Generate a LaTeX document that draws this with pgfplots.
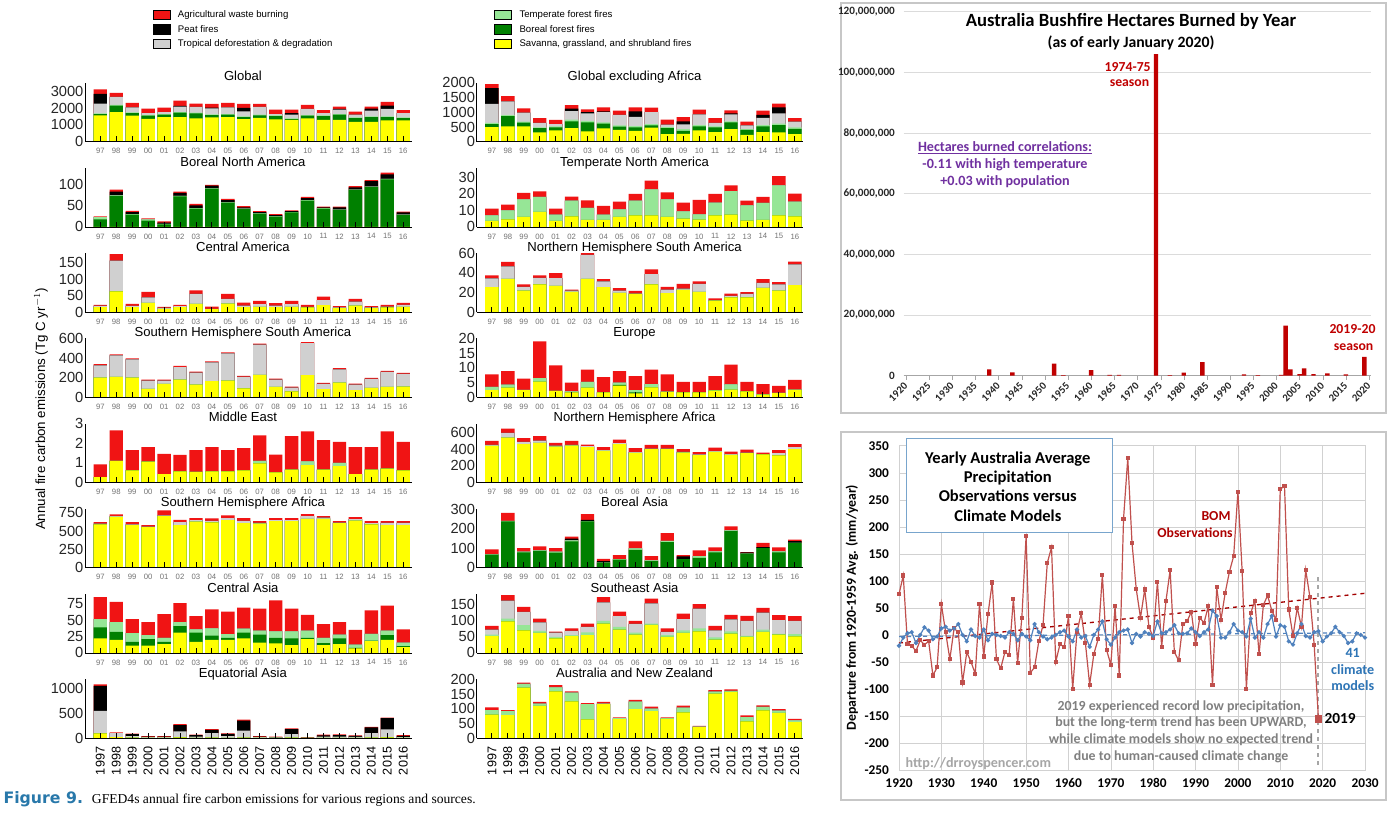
\documentclass[border=0pt]{standalone}
\usepackage{fontspec}
\setmainfont{Liberation Sans}
\newfontfamily\timesf{Liberation Serif}
\newfontfamily\calib{Carlito}
\newfontfamily\dejavu{DejaVu Sans}
\usepackage{pgfplots}
\usepackage{pgfplotstable}
\pgfplotsset{compat=1.18}

\definecolor{cAg}{RGB}{240,20,20}
\definecolor{cPe}{RGB}{0,0,0}
\definecolor{cDe}{RGB}{208,208,208}
\definecolor{cTe}{RGB}{150,230,150}
\definecolor{cBo}{RGB}{0,128,0}
\definecolor{cSa}{RGB}{255,255,0}
\definecolor{barRed}{RGB}{192,0,0}
\definecolor{obsRed}{RGB}{192,80,77}
\definecolor{modBlue}{RGB}{79,129,189}
\definecolor{txtBlue}{RGB}{46,117,182}
\definecolor{txtPurple}{RGB}{112,48,160}
\definecolor{capBlue}{RGB}{40,120,170}
\definecolor{boxBlue}{RGB}{120,165,205}

\def\u{0.75pt}

% cumulative tops of the stacked layers: savanna, +boreal, +temperate, +deforestation, +peat, +agricultural
\pgfplotstableread{
s b t d p a
1560 1640 1680 2260 2840 3100
1760 2140 2180 2660 2660 2900
1540 1700 1740 2040 2040 2300
1360 1540 1580 1700 1700 1960
1460 1600 1640 1760 1760 2020
1460 1720 1760 2080 2120 2440
1380 1680 1720 2060 2060 2260
1440 1580 1620 1980 2020 2240
1460 1600 1640 2040 2040 2300
1340 1460 1500 1800 2000 2240
1420 1560 1600 2060 2060 2240
1320 1520 1560 1640 1640 1900
1300 1340 1380 1600 1700 1900
1380 1540 1580 1940 1940 2180
1300 1520 1560 1700 1700 1880
1300 1600 1640 1900 1940 2080
1180 1400 1440 1600 1600 1780
1180 1460 1500 1840 1960 2080
1260 1460 1500 1940 2140 2360
1260 1400 1440 1700 1700 1880
}\Tgl

\pgfplotstableread{
s b t d p a
0 18 23 23 23 25
0 73 74 74 83 88
0 29 30 30 35 38
0 15 18 18 18 20
0 6 7 7 10 13
0 72 73 73 80 83
0 43 44 44 51 54
0 90 91 91 97 99
0 57 58 58 63 66
0 42 43 43 46 49
0 31 32 32 35 37
0 24 25 25 28 30
0 34 35 35 37 39
0 62 63 63 68 71
0 43 44 44 46 48
0 40 41 41 46 48
0 87 88 88 93 96
0 94 95 95 108 110
0 112 113 113 124 128
0 28 29 29 34 36
}\Tbna

\pgfplotstableread{
s b t d p a
15 15 15 19 19 22
63 63 63 156 156 176
15 15 15 19 19 25
28 28 28 45 45 61
10 10 10 13 13 16
15 15 15 18 18 22
25 25 25 55 55 66
9 9 9 10 10 17
26 26 26 40 40 55
15 15 15 20 20 29
16 16 16 24 24 34
15 15 15 20 20 27
16 16 16 24 24 34
14 14 14 16 16 22
21 21 21 36 36 47
12 12 12 14 14 18
20 20 20 32 32 40
12 12 12 14 14 18
14 14 14 17 17 22
16 16 16 22 22 28
}\Tca

\pgfplotstableread{
s b t d p a
200 200 200 324 324 337
208 208 208 426 426 436
200 200 200 385 385 395
85 85 85 170 170 180
136 136 136 170 170 180
180 180 180 307 307 320
130 130 130 252 252 262
164 164 164 355 355 365
170 170 170 447 447 457
92 92 92 208 208 218
228 228 228 535 535 545
106 106 106 180 180 190
61 61 61 99 99 109
225 225 225 552 552 562
82 82 82 136 136 147
150 150 150 283 283 297
72 72 72 130 130 140
95 95 95 188 188 198
106 106 106 259 259 269
109 109 109 239 239 249
}\Tshsa

\pgfplotstableread{
s b t d p a
0.28 0.28 0.28 0.28 0.28 0.92
1.1 1.1 1.1 1.1 1.1 2.65
0.62 0.62 0.62 0.62 0.62 1.65
1.06 1.06 1.06 1.06 1.06 1.8
0.43 0.43 0.43 0.43 0.43 1.46
0.57 0.57 0.57 0.57 0.57 1.4
0.54 0.54 0.54 0.54 0.54 1.65
0.57 0.57 0.57 0.57 0.57 1.8
0.57 0.57 0.57 0.57 0.57 1.65
0.62 0.62 0.62 0.62 0.62 1.75
0.97 0.97 1.1 1.1 1.1 2.4
0.52 0.52 0.52 0.52 0.52 1.42
0.66 0.66 0.66 0.66 0.66 2.36
0.88 0.88 1.07 1.07 1.07 2.6
0.66 0.66 0.66 0.66 0.66 2.15
0.83 0.83 1.0 1.0 1.0 2.06
0.42 0.42 0.42 0.42 0.42 1.8
0.66 0.66 0.66 0.66 0.66 1.8
0.71 0.71 0.71 0.71 0.71 2.6
0.62 0.62 0.62 0.62 0.62 2.06
}\Tme

\pgfplotstableread{
s b t d p a
590 590 590 600 600 621
695 695 695 705 705 727
580 580 580 590 590 621
553 553 553 560 560 580
704 704 704 715 715 781
580 580 580 621 621 653
630 630 630 649 649 676
617 617 617 640 640 672
649 649 649 676 676 713
608 608 608 640 640 676
603 603 603 612 612 635
635 635 635 649 649 676
635 635 635 649 649 676
667 667 667 704 704 731
667 667 667 685 685 704
608 608 608 615 615 635
644 644 644 663 663 690
590 590 590 608 608 635
580 580 580 612 612 635
580 580 580 612 612 635
}\Tsha

\pgfplotstableread{
s b t d p a
22 39 51.5 51.5 51.5 85
20 32 47 47 47 78
11 17 30 30 30 51.5
11 21 27 27 27 47
13.5 17 23 23 23 59
31 41 47 47 47 76
17 31 36 36 36 56
20 26.5 37.5 37.5 37.5 66.5
20 23 28.6 28.6 28.6 63
22 31 37 37 37 69
15.6 28 34 34 34 67.6
14.6 23 33 33 33 80
12 22 33 33 33 67.6
21 23 34 34 34 58
12 15 23 23 23 44
13.5 22 28 28 28 47
6.8 7.8 12.5 12.5 12.5 35
18 18.7 29 29 29 65
20 27 34 34 34 72
9 10.5 15.6 15.6 15.6 36
}\Tcas

\pgfplotstableread{
s b t d p a
95 95 95 554 1061 1095
20 20 20 100 100 115
10 10 10 40 80 90
5 5 5 20 30 40
5 5 5 20 30 40
15 15 15 135 264 284
5 5 5 30 60 70
10 10 10 100 168 182
5 5 5 40 85 95
10 10 10 150 358 378
5 5 5 20 30 40
5 5 5 15 20 30
10 10 10 80 182 196
3 3 3 10 12 20
5 5 5 30 58 70
5 5 5 30 63 75
5 5 5 25 45 55
10 10 10 101 216 230
15 15 15 176 405 419
5 5 5 20 45 60
}\Teqa

\pgfplotstableread{
s b t d p a
497 600 635 1282 1813 1952
520 866 900 1363 1363 1548
520 647 681 982 982 1132
312 462 485 635 635 797
381 485 520 600 600 739
462 693 751 1040 1120 1236
347 658 704 959 1005 1097
450 612 658 1005 1028 1166
404 508 554 912 912 1051
370 485 531 843 1028 1166
474 554 600 1005 1005 1155
254 462 497 577 577 751
266 370 427 589 693 832
381 520 566 924 924 1086
323 485 520 635 635 797
427 658 693 924 959 1063
231 404 427 554 554 681
323 520 566 809 912 1051
312 566 612 959 1166 1294
254 439 485 681 681 797
}\Tgxa

\pgfplotstableread{
s b t d p a
3.6 3.6 7 7 7 11
4.6 4.6 10 10 10 13.4
6 6 16.6 16.6 16.6 20.4
9 9 18 18 18 21.4
3.6 3.6 7.4 7.4 7.4 11
6.4 6.4 15.8 15.8 15.8 18.2
4.2 4.2 11.4 11.4 11.4 16
4.2 4.2 7.4 7.4 7.4 12.6
6 6 10.6 10.6 10.6 15.2
7 7 15.8 15.8 15.8 19.8
7 7 22.6 22.6 22.6 27.8
6 6 16.6 16.6 16.6 20.8
5 5 9.4 9.4 9.4 14.6
4.4 4.4 7.6 7.6 7.6 16.2
7 7 14.6 14.6 14.6 19.8
7.4 7.4 21.6 21.6 21.6 25
3.8 3.8 13 13 13 15.8
4.2 4.2 14.4 14.4 14.4 18
7 7 25 25 25 30.6
6.4 6.4 15.2 15.2 15.2 20
}\Ttna

\pgfplotstableread{
s b t d p a
25.3 25.3 25.3 34.2 34.2 37.3
33.9 33.9 33.9 46.6 46.6 51
21.9 21.9 21.9 25.7 25.7 28.1
28.1 28.1 28.1 34.9 34.9 37.3
26.7 26.7 26.7 34.6 34.6 39.7
20.5 20.5 20.5 21.9 21.9 22.9
33.9 33.9 33.9 58.2 58.2 60
25.3 25.3 25.3 31.2 31.2 33.6
19.5 19.5 19.5 21.9 21.9 24.3
18.5 18.5 18.5 18.8 18.8 21.6
28.1 28.1 28.1 38.7 38.7 43.5
19.2 19.2 19.2 22.9 22.9 25.7
22.6 22.6 22.6 24 24 28.8
20.5 20.5 20.5 28.8 28.8 31.2
11.6 11.6 11.6 12 12 14
15.1 15.1 15.1 16.4 16.4 18.8
15.1 15.1 15.1 18.5 18.5 20.2
24.7 24.7 24.7 29.8 29.8 33.6
21.9 21.9 21.9 28.1 28.1 30.5
27.4 27.4 27.4 48.6 48.6 51.4
}\Tnhsa

\pgfplotstableread{
s b t d p a
2.4 2.4 3.5 3.5 3.5 7.8
3.3 3.3 4.3 4.3 4.3 8.9
2.4 2.4 2.5 2.5 2.5 6.3
5.3 5.3 6.5 6.5 6.5 19
2.2 2.2 2.2 2.2 2.2 10.8
1.7 1.7 2 2 2 5
3.3 3.3 5.2 5.2 5.2 9.4
1.7 1.7 1.7 1.7 1.7 6.8
4 4.2 5 5 5 8.9
1.3 1.7 2.4 2.4 2.4 7.2
3.4 3.4 4.5 4.5 4.5 9.4
1.8 1.8 1.9 1.9 1.9 7.8
1.7 1.7 1.7 1.7 1.7 5.2
1.7 1.7 1.7 1.7 1.7 5.2
2.3 2.3 2.4 2.4 2.4 7.2
2.6 2.6 4.4 4.4 4.4 11.1
2 2 2 2 2 5.2
0.9 0.9 1.1 1.1 1.1 4.5
1.4 1.4 1.5 1.5 1.5 3.9
2.5 2.5 2.6 2.6 2.6 5.9
}\Teur

\pgfplotstableread{
s b t d p a
442 442 442 454 454 502
543 543 543 599 599 651
462 462 462 490 490 535
478 478 478 506 506 559
434 434 434 446 446 478
446 446 446 454 454 502
426 426 426 438 438 458
382 382 382 390 390 426
462 462 462 474 474 519
358 358 358 366 366 414
402 402 402 410 410 454
402 402 402 410 410 454
362 362 362 370 370 402
330 330 330 338 338 366
370 370 370 378 378 422
334 334 334 342 342 374
354 354 354 362 362 398
338 338 338 342 342 362
326 326 326 354 354 390
402 402 402 426 426 462
}\Tnha

\pgfplotstableread{
s b t d p a
0 67 68 68 68 94
0 238 241 241 241 282
0 79 82 82 82 101
0 86 89 89 89 109
0 77 82 82 82 101
0 135 140 140 150 159
0 238 238 238 246 275
0 26 26 26 34 46
0 41 44 44 44 65
0 91 99 99 99 135
0 34 38 38 38 60
0 132 138 138 138 178
0 44 44 44 58 65
0 51 60 60 60 89
0 79 84 84 84 104
0 188 192 192 192 212
0 72 72 72 79 80
0 101 101 101 106 128
0 79 84 84 84 104
0 127 127 127 137 144
}\Tbas

\pgfplotstableread{
s b t d p a
52 52 57 72.5 72.5 84
98 98 106 162 162 179
70 70 86 127 127 143
62 62 68 95 95 106
45 45 50 63 63 66
52 52 55 68 68 76
55 55 64 81 81 91
91 91 99 157 157 173
72.5 72.5 81 114 114 128
57 57 63 90 90 99
87 87 91 154 154 168
50 50 55 65 65 76
62 62 70 105 105 122
67 67 76 137 137 151
41 41 48 70 70 84
60 60 67 104 104 118
50 50 53 99 99 115
65 65 72.5 125 125 140
57 57 59 102 102 117
51 51 58 99 99 114
}\Tsea

\pgfplotstableread{
s b t d p a
80 80 96 96 96 105
79 79 92 92 92 96
173 173 186 186 186 190
110 110 118 118 118 124
160 160 174 174 174 181
126 126 156 156 156 160
64 64 116 116 116 120
116 116 118 118 118 124
65 65 68 68 68 71
99 99 125 125 125 131
92 92 101 101 101 108
66 66 68 68 68 71
88 88 104 104 104 111
38 38 39 39 39 42
152 152 159 159 159 164
158 158 162 162 162 167
57 57 72 72 72 78
95 95 107 107 107 112
86 86 94 94 94 99
55 55 61 61 61 66
}\Tanz

\pgfplotsset{
  gfed/.style={
    scale only axis, width=244.9pt, height=44.25pt,
    xmin=-0.96, xmax=19.52, ymin=0,
    axis x line*=bottom, axis y line*=left,
    axis on top,
    ybar, bar width=10pt, bar shift=0pt,
    xtick={0,...,19},
    xtick align=inside, major tick length=4pt,
    xtick style={black, line width=0.7pt},
    ytick style={draw=none},
    yticklabel style={font=\fontsize{11}{11}\selectfont, text=black!85, inner sep=1pt},
    /pgf/number format/assume math mode=true,
    /pgf/number format/1000 sep={},
    scaled y ticks=false,
    % the default title style already shifts the title up by 6pt
    title style={at={(0.5,1)}, anchor=base, yshift=-4.6pt, xshift=-4pt,
      font=\fontsize{9.8}{11}\selectfont},
    every axis plot/.append style={draw=none},
  },
  shortlab/.style={
    xticklabels={97,98,99,00,01,02,03,04,05,06,07,08,09,10,11,12,13,14,15,16},
    xticklabel style={font=\fontsize{5.8}{6}\selectfont, text=black!55},
    xticklabel shift=1.5pt,
  },
  yearlab/.style={
    xticklabels={1997,1998,1999,2000,2001,2002,2003,2004,2005,2006,2007,2008,2009,2010,2011,2012,2013,2014,2015,2016},
    xticklabel style={rotate=90, anchor=east, font=\fontsize{9.5}{10}\selectfont, text=black},
    xticklabel shift=3pt,
  },
}

% #1 extra style, #2 x of y axis, #3 y of zero line (px), #4 title, #5 table, #6 ymax, #7 yticks
\newcommand\panel[7][shortlab]{%
  \begin{axis}[gfed, #1, at={(#2*\u,-#3*\u)}, anchor=south west,
      title={#4}, ymax=#6, ytick={#7}]
    \addplot[fill=cAg, bar shift=0pt] table[x expr=\coordindex, y=a]{#5};
    \addplot[fill=cPe, bar shift=0pt] table[x expr=\coordindex, y=p]{#5};
    \addplot[fill=cDe, bar shift=0pt] table[x expr=\coordindex, y=d]{#5};
    \addplot[fill=cTe, bar shift=0pt] table[x expr=\coordindex, y=t]{#5};
    \addplot[fill=cBo, bar shift=0pt] table[x expr=\coordindex, y=b]{#5};
    \addplot[fill=cSa, bar shift=0pt] table[x expr=\coordindex, y=s]{#5};
  \end{axis}}

\begin{document}
\begin{tikzpicture}
\useasboundingbox (0,0) rectangle (1392*\u,-814*\u);
\fill[white] (0,0) rectangle (1392*\u,-814*\u);

% ---------- legend of the GFED figure
\begin{scope}[font=\fontsize{7.2}{8}\selectfont]
  \filldraw[fill=cAg, draw=black, line width=0.5pt] (153.3*\u,-10*\u) rectangle (170*\u,-19.4*\u);
  \node[anchor=west, inner sep=0] at (177.7*\u,-14.7*\u) {Agricultural waste burning};
  \filldraw[fill=cPe, draw=black, line width=0.5pt] (153.3*\u,-24.6*\u) rectangle (170*\u,-34*\u);
  \node[anchor=west, inner sep=0] at (177.7*\u,-29.3*\u) {Peat fires};
  \filldraw[fill=cDe, draw=black, line width=0.5pt] (153.3*\u,-39*\u) rectangle (170*\u,-48.4*\u);
  \node[anchor=west, inner sep=0] at (177.7*\u,-43.7*\u) {Tropical deforestation \& degradation};
  \filldraw[fill=cTe, draw=black, line width=0.5pt] (494*\u,-10*\u) rectangle (511.7*\u,-19.4*\u);
  \node[anchor=west, inner sep=0] at (519.3*\u,-14.7*\u) {Temperate forest fires};
  \filldraw[fill=cBo, draw=black, line width=0.5pt] (494*\u,-24.6*\u) rectangle (511.7*\u,-34*\u);
  \node[anchor=west, inner sep=0] at (519.3*\u,-29.3*\u) {Boreal forest fires};
  \filldraw[fill=cSa, draw=black, line width=0.5pt] (494*\u,-39*\u) rectangle (511.7*\u,-48.4*\u);
  \node[anchor=west, inner sep=0] at (519.3*\u,-43.7*\u) {Savanna, grassland, and shrubland fires};
\end{scope}

% ---------- left column
\panel{85}{141.7}{Global}{\Tgl}{3500}{0,1000,2000,3000}
\panel{85}{226.9}{Boreal North America}{\Tbna}{139}{0,50,100}
\panel{85}{312.1}{Central America}{\Tca}{179}{0,50,100,150}
\panel{85}{397.3}{Southern Hemisphere South America}{\Tshsa}{600}{0,200,400,600}
\panel{85}{482.5}{Middle East}{\Tme}{3}{0,1,2,3}
\panel{85}{567.7}{Southern Hemisphere Africa}{\Tsha}{805}{0,250,500,750}
\panel{85}{652.9}{Central Asia}{\Tcas}{90}{0,25,50,75}
\panel[yearlab]{85}{738.1}{Equatorial Asia}{\Teqa}{1200}{0,500,1000}

% ---------- right column
\panel{476.6}{141.7}{Global excluding Africa}{\Tgxa}{2000}{0,500,1000,1500,2000}
\panel{476.6}{226.9}{Temperate North America}{\Ttna}{35.5}{0,10,20,30}
\panel{476.6}{312.1}{Northern Hemisphere South America}{\Tnhsa}{60}{0,20,40,60}
\panel{476.6}{397.3}{Europe}{\Teur}{20}{0,5,10,15,20}
\panel{476.6}{482.5}{Northern Hemisphere Africa}{\Tnha}{712}{0,200,400,600}
\panel{476.6}{567.7}{Boreal Asia}{\Tbas}{303}{0,100,200,300}
\panel{476.6}{652.9}{Southeast Asia}{\Tsea}{183}{0,50,100,150}
\panel[yearlab]{476.6}{738.1}{Australia and New Zealand}{\Tanz}{202}{0,50,100,150,200}

\node[rotate=90, font=\fontsize{10}{12}\selectfont] at (41*\u,-409*\u)
  {Annual fire carbon emissions (Tg C yr$^{-1}$)};

\node[anchor=base west, inner sep=0, text=capBlue, font=\dejavu\bfseries\fontsize{11.8}{12}\selectfont]
  at (3.3*\u,-803*\u) {Figure 9.};
\node[anchor=base west, inner sep=0, font=\timesf\fontsize{10.2}{12}\selectfont]
  at (91.7*\u,-803*\u) {GFED4s annual fire carbon emissions for various regions and sources.};

% ---------- Australia bushfire hectares
\draw[black!22, line width=0.8pt] (841*\u,-3*\u) rectangle (1386*\u,-413*\u);
\begin{axis}[scale only axis, width=350.8pt, height=273pt,
    at={(903.6*\u,-375.7*\u)}, anchor=south west,
    xmin=1919.5, xmax=2020.5, ymin=0, ymax=120000000,
    ybar, bar width=3.3pt, bar shift=0pt,
    axis x line*=bottom, axis y line*=left,
    y axis line style={draw=none}, x axis line style={draw=black!35},
    xtick={1920,1925,...,2020},
    xtick style={black!35}, xtick align=outside, major tick length=3pt,
    ytick style={draw=none},
    ytick={0,20000000,40000000,60000000,80000000,100000000,120000000},
    yticklabels={0,{20,000,000},{40,000,000},{60,000,000},{80,000,000},{100,000,000},{120,000,000}},
    yticklabel style={font=\calib\bfseries\fontsize{8.4}{9}\selectfont, text=black!85},
    xticklabel style={rotate=45, anchor=east, inner sep=0pt,
      font=\calib\bfseries\fontsize{8}{8}\selectfont, text=black!85},
    yticklabel shift=3pt, xticklabel shift=3.5pt,
    ymajorgrids, grid style={black!14},
    /pgf/number format/assume math mode=true, /pgf/number format/1000 sep={},
    scaled y ticks=false]
  \addplot[fill=barRed, draw=none] coordinates {
    (1938,2100000) (1943,1100000) (1952,4000000) (1954,200000) (1960,1800000)
    (1964,300000) (1966,300000) (1974,106000000) (1977,200000) (1980,1000000)
    (1984,4500000) (1993,400000) (1996,200000) (2001,300000) (2002,16500000)
    (2003,2100000) (2005,500000) (2006,2400000) (2008,500000) (2011,800000)
    (2015,400000) (2019,6200000)};
\end{axis}
\node[font=\calib\bfseries\fontsize{14}{16}\selectfont] at (1131*\u,-21.7*\u) {Australia Bushfire Hectares Burned by Year};
\node[font=\calib\bfseries\fontsize{11.8}{14}\selectfont] at (1131*\u,-43.3*\u) {(as of early January 2020)};
\begin{scope}[every node/.style={text=barRed, font=\calib\bfseries\fontsize{10.3}{12}\selectfont}]
  \node at (1127.7*\u,-66.7*\u) {1974-75};
  \node at (1129.5*\u,-83.3*\u) {season};
  \node at (1352.5*\u,-329*\u) {2019-20};
  \node at (1353.6*\u,-346.7*\u) {season};
\end{scope}
\begin{scope}[every node/.style={text=txtPurple, font=\calib\bfseries\fontsize{10.6}{12}\selectfont}]
  \node at (1005*\u,-147.7*\u) {\underline{Hectares burned correlations:}};
  \node at (1005*\u,-165*\u) {-0.11 with high temperature};
  \node at (1005*\u,-182*\u) {+0.03 with population};
\end{scope}

% ---------- Australia precipitation
\draw[black!22, line width=0.8pt] (841*\u,-432*\u) rectangle (1386*\u,-800*\u);
\begin{axis}[scale only axis, width=349.5pt, height=243.2pt,
    at={(899*\u,-770*\u)}, anchor=south west,
    xmin=1920, xmax=2030, ymin=-250, ymax=350,
    xtick={1920,1930,...,2030}, ytick={-250,-200,...,350},
    yticklabels={-250,-200,-150,-100,-50,0,50,100,150,200,250,300,350},
    grid=major, grid style={black!18}, axis line style={black!18}, tick style={draw=none},
    ticklabel style={font=\calib\bfseries\fontsize{10}{10}\selectfont, text=black},
    yticklabel shift=4pt, xticklabel shift=3pt,
    /pgf/number format/assume math mode=true, /pgf/number format/1000 sep={},
    clip=false]
  \addplot[barRed!85!black, dashed, line width=1pt] coordinates {(1920,-15) (2030,77)};
  \addplot[modBlue, dashed, line width=0.9pt] coordinates {(1920,-3) (2030,4)};
  \addplot[black!35, dashed, line width=1.4pt] coordinates {(2019,107) (2019,-245)};
  \addplot[obsRed, line width=0.9pt, mark=square*, mark size=1.1pt] coordinates {
    (1920,75) (1921,110) (1922,-17) (1923,-20) (1924,-30) (1925,-10) (1926,-18) (1927,-12) (1928,-75) (1929,-60)
    (1930,57) (1931,5) (1932,-45) (1933,12) (1934,5) (1935,-88) (1936,-32) (1937,-50) (1938,-72) (1939,57)
    (1940,-40) (1941,38) (1942,97) (1943,-45) (1944,-62) (1945,-32) (1946,-37) (1947,67) (1948,-52) (1949,32)
    (1950,183) (1951,-70) (1952,-60) (1953,-12) (1954,18) (1955,133) (1956,162) (1957,-50) (1958,-17) (1959,-23)
    (1960,35) (1961,-100) (1962,5) (1963,40) (1964,-15) (1965,-92) (1966,-35) (1967,-8) (1968,111) (1969,-28)
    (1970,-55) (1971,53) (1972,-75) (1973,215) (1974,327) (1975,170) (1976,85) (1977,32) (1978,84) (1979,15)
    (1980,-5) (1981,98) (1982,-22) (1983,62) (1984,120) (1985,-32) (1986,-47) (1987,20) (1988,25) (1989,43)
    (1990,-17) (1991,32) (1992,22) (1993,53) (1994,-93) (1995,88) (1996,28) (1997,78) (1998,117) (1999,146)
    (2000,265) (2001,118) (2002,-100) (2003,40) (2004,63) (2005,-36) (2006,55) (2007,73) (2008,45) (2009,28)
    (2010,270) (2011,275) (2012,47) (2013,-2) (2014,50) (2015,15) (2016,120) (2017,70) (2018,-18) (2019,-155)};
  \addplot[modBlue, line width=0.9pt, mark=*, mark size=1.1pt] coordinates {
    (1920,-20) (1921,-5) (1922,3) (1923,5) (1924,-15) (1925,0) (1926,14) (1927,8) (1928,-8) (1929,-3)
    (1930,12) (1931,15) (1932,8) (1933,12) (1934,20) (1935,0) (1936,-12) (1937,10) (1938,-2) (1939,-5)
    (1940,10) (1941,-10) (1942,2) (1943,0) (1944,-2) (1945,-5) (1946,5) (1947,2) (1948,-10) (1949,2)
    (1950,-3) (1951,-10) (1952,20) (1953,5) (1954,-3) (1955,-8) (1956,-5) (1957,0) (1958,5) (1959,8)
    (1960,-3) (1961,-12) (1962,10) (1963,-5) (1964,-2) (1965,-22) (1966,0) (1967,10) (1968,25) (1969,-8)
    (1970,-18) (1971,-5) (1972,5) (1973,8) (1974,10) (1975,-15) (1976,2) (1977,-3) (1978,5) (1979,2)
    (1980,-2) (1981,25) (1982,3) (1983,5) (1984,10) (1985,18) (1986,3) (1987,2) (1988,3) (1989,12)
    (1990,5) (1991,-2) (1992,5) (1993,10) (1994,45) (1995,35) (1996,-5) (1997,-5) (1998,5) (1999,20)
    (2000,8) (2001,5) (2002,-3) (2003,30) (2004,-5) (2005,5) (2006,-5) (2007,20) (2008,35) (2009,-3)
    (2010,18) (2011,15) (2012,-12) (2013,-18) (2014,3) (2015,20) (2016,-2) (2017,-5) (2018,5) (2019,7)
    (2020,-12) (2021,-3) (2022,3) (2023,15) (2024,5) (2025,-2) (2026,-15) (2027,-12) (2028,3) (2029,0) (2030,-5)};
  \addplot[obsRed, only marks, mark=square*, mark size=2.4pt] coordinates {(2019,-155)};
\end{axis}
\node[rotate=90, font=\calib\bfseries\fontsize{10.3}{11}\selectfont] at (852*\u,-607.5*\u)
  {Departure from 1920-1959 Avg. (mm/year)};
\draw[boxBlue, fill=white, line width=0.8pt] (906.4*\u,-438.3*\u) rectangle (1112.7*\u,-532.3*\u);
\node[align=center, font=\calib\bfseries\fontsize{12.4}{14.6}\selectfont] at (1007.8*\u,-486.5*\u)
  {Yearly Australia Average\\Precipitation\\Observations versus\\Climate Models};
\begin{scope}[every node/.style={text=barRed!90!black, font=\calib\bfseries\fontsize{10.3}{12}\selectfont}]
  \node at (1216*\u,-515.7*\u) {BOM};
  \node at (1195*\u,-532.3*\u) {Observations};
\end{scope}
\begin{scope}[every node/.style={text=txtBlue, font=\calib\bfseries\fontsize{10.6}{12}\selectfont}]
  \node at (1352.7*\u,-653.3*\u) {41};
  \node at (1352.7*\u,-670*\u) {climate};
  \node at (1352.7*\u,-685.7*\u) {models};
\end{scope}
\node[anchor=west, inner sep=0, font=\calib\bfseries\fontsize{11.5}{12}\selectfont] at (1324.3*\u,-719*\u) {2019};
\node[align=center, text=black!50, font=\calib\bfseries\fontsize{10.4}{12.4}\selectfont] at (1181*\u,-731.5*\u)
  {2019 experienced record low precipitation,\\but the long-term trend has been UPWARD,\\while climate models show no expected trend\\due to human-caused climate change};
\node[anchor=west, inner sep=0, text=black!35, font=\calib\bfseries\fontsize{10.6}{12}\selectfont] at (905.4*\u,-763.3*\u) {http://drroyspencer.com};
\end{tikzpicture}
\end{document}
